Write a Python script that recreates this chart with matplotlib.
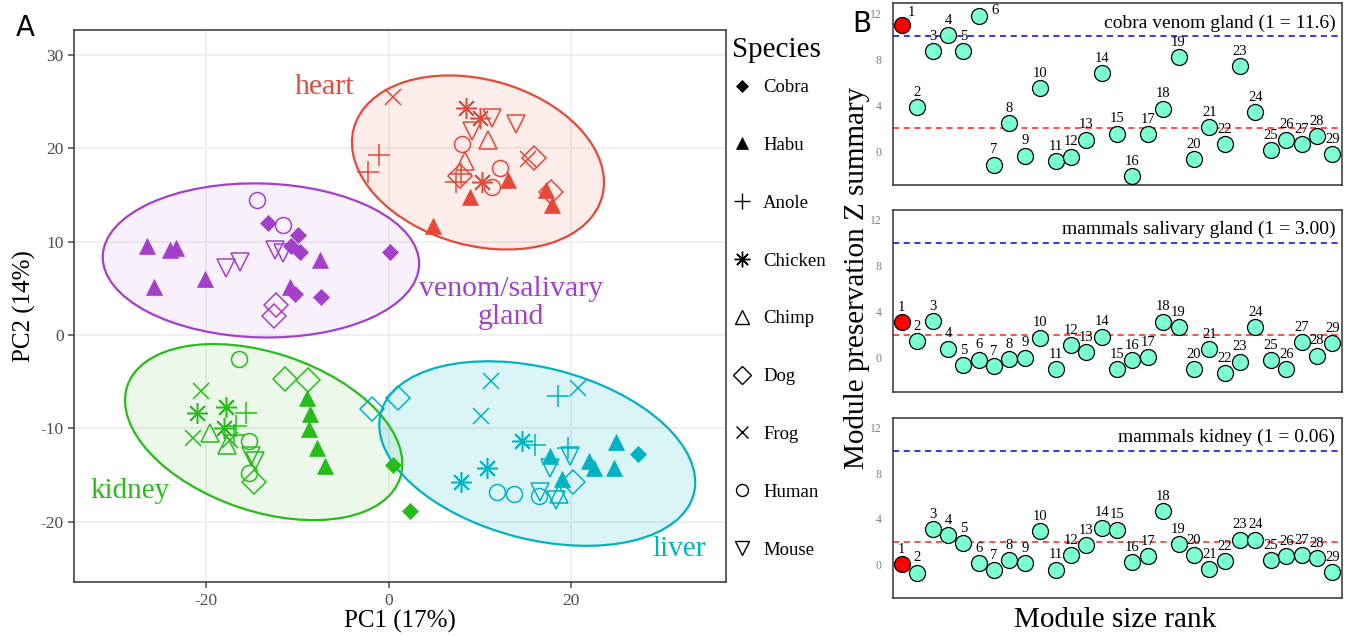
import numpy as np
import matplotlib.pyplot as plt
from matplotlib.patches import Ellipse
from matplotlib.lines import Line2D

plt.rcParams['font.family'] = ['Liberation Serif', 'DejaVu Serif']
plt.rcParams['axes.unicode_minus'] = False

############################################################# Data

species_names = ['Cobra', 'Habu', 'Anole', 'Chicken', 'Chimp', 'Dog', 'Frog', 'Human', 'Mouse']

heart_sp = ['Frog', 'Anole', 'Anole', 'Chicken', 'Chicken', 'Chicken', 'Mouse', 'Mouse', 'Mouse',
            'Chimp', 'Chimp', 'Human', 'Human', 'Human', 'Dog', 'Dog', 'Dog', 'Frog', 'Anole', 'Anole',
            'Habu', 'Habu', 'Habu', 'Habu', 'Habu']
heart_x = [0.5, -1.1, -2.3, 8.5, 10.0, 10.2, 11.3, 14.0, 9.1, 10.9, 8.4, 8.0, 12.2, 11.3, 15.9, 7.8, 17.8,
           15.3, 7.4, 7.9, 13.1, 8.9, 4.9, 17.3, 17.9]
heart_y = [25.5, 19.3, 17.5, 24.3, 23.3, 16.4, 23.3, 22.6, 21.9, 20.9, 18.7, 20.5, 17.9, 15.9, 19.0, 17.1,
           15.3, 18.9, 16.4, 17.3, 16.6, 14.8, 11.7, 15.5, 13.9]

venom_sp = ['Human', 'Human', 'Cobra', 'Cobra', 'Cobra', 'Cobra', 'Cobra', 'Cobra', 'Cobra',
            'Mouse', 'Mouse', 'Mouse', 'Mouse', 'Habu', 'Habu', 'Habu', 'Habu', 'Habu', 'Habu', 'Habu',
            'Dog', 'Dog']
venom_x = [-14.4, -11.6, -13.2, -9.9, -10.7, -9.7, 0.2, -10.3, -7.4, -12.5, -11.6, -17.8, -16.3,
           -26.5, -24.0, -23.3, -7.5, -20.1, -25.7, -10.8, -12.3, -12.6]
venom_y = [14.5, 11.8, 12.0, 10.7, 9.5, 8.9, 8.9, 4.4, 4.1, 9.1, 8.8, 7.2, 7.8,
           9.6, 9.1, 9.3, 8.0, 6.0, 5.1, 5.1, 3.2, 2.0]

kidney_sp = ['Human', 'Human', 'Human', 'Dog', 'Dog', 'Dog', 'Frog', 'Frog', 'Frog',
             'Chicken', 'Chicken', 'Chicken', 'Anole', 'Anole', 'Anole', 'Chimp', 'Chimp',
             'Mouse', 'Mouse', 'Habu', 'Habu', 'Habu', 'Habu', 'Habu', 'Cobra', 'Cobra']
kidney_x = [-16.4, -15.3, -15.3, -11.4, -8.8, -14.8, -20.6, -21.4, -17.4, -21.0, -17.8, -18.0,
            -15.6, -16.7, -17.0, -19.6, -17.7, -15.1, -14.7, -9.0, -8.6, -8.7, -7.8, -7.0, 0.5, 2.3]
kidney_y = [-2.6, -11.4, -14.8, -4.7, -4.8, -15.7, -6.0, -11.0, -11.2, -8.4, -7.7, -10.0,
            -8.4, -9.8, -10.7, -10.5, -11.8, -13.0, -13.5, -6.7, -8.5, -10.1, -12.1, -14.0, -13.9, -18.9]

liver_sp = ['Dog', 'Dog', 'Dog', 'Frog', 'Frog', 'Frog', 'Anole', 'Anole', 'Anole',
            'Chicken', 'Chicken', 'Chicken', 'Habu', 'Habu', 'Habu', 'Habu', 'Habu', 'Habu', 'Cobra',
            'Mouse', 'Mouse', 'Mouse', 'Mouse', 'Human', 'Human', 'Human', 'Chimp']
liver_x = [-1.8, 1.0, 20.2, 11.2, 10.1, 20.8, 18.6, 16.0, 19.7, 14.6, 10.8, 7.9,
           17.7, 24.9, 22.0, 22.5, 19.0, 24.7, 27.4, 19.9, 17.7, 16.6, 18.4, 11.9, 13.8, 16.5, 18.7]
liver_y = [-7.9, -6.7, -15.8, -4.9, -8.7, -5.7, -6.5, -11.8, -12.1, -11.4, -14.2, -15.7,
           -13.0, -11.5, -13.5, -14.2, -15.4, -14.3, -12.7, -13.0, -14.3, -16.8, -17.7, -16.8, -17.0, -17.3, -17.0]

# ellipse: centre x, centre y, semi-axis a, semi-axis b, angle (deg)
heart_ell = [9.8, 18.5, 14.1, 8.9, -14.8]
venom_ell = [-14.0, 8.0, 17.35, 8.25, -1.5]
kidney_ell = [-13.7, -10.4, 15.75, 8.5, -18.0]
liver_ell = [16.3, -12.7, 17.7, 9.2, -13.9]

# Module preservation Z summary, module size rank 1..29
rank = np.arange(1, 30)
z_cobra = [11.0, 3.8, 8.7, 10.1, 8.7, 11.8, -1.2, 2.4, -0.4, 5.5, -0.9, -0.5, 1.0, 6.8, 1.5, -2.2,
           1.45, 3.7, 8.2, -0.7, 2.1, 0.6, 7.4, 3.4, 0.1, 1.0, 0.6, 1.3, -0.26]
z_saliv = [3.1, 1.45, 3.2, 0.8, -0.67, -0.17, -0.75, -0.12, 0.0, 1.74, -1.0, 1.1, 0.46, 1.83, -1.0,
           -0.2, 0.03, 3.13, 2.64, -1.0, 0.75, -1.36, -0.35, 2.64, -0.23, -1.0, 1.33, 0.17, 1.28]
z_kidney = [0.03, -0.72, 3.07, 2.56, 1.87, 0.09, -0.52, 0.37, 0.09, 2.9, -0.46, 0.78, 1.67, 3.22,
            3.05, 0.17, 0.72, 4.66, 1.75, 0.8, -0.43, 0.26, 2.16, 2.16, 0.37, 0.69, 0.83, 0.57, -0.69]
panel_titles = ['cobra venom gland (1 = 11.6)', 'mammals salivary gland (1 = 3.00)',
                'mammals kidney (1 = 0.06)']

############################################################# Styles

col_heart = '#E4493A'
col_venom = '#A43FCB'
col_kidney = '#27BC1A'
col_liver = '#00B2C4'

# (marker, filled, size)
mk = {'Cobra': ('D', True, 8.5), 'Habu': ('^', True, 12), 'Anole': ('+', False, 16),
      'Chicken': ((8, 2, 0), False, 15), 'Chimp': ('^', False, 13), 'Dog': ('D', False, 12),
      'Frog': ('x', False, 11.5), 'Human': ('o', False, 11.5), 'Mouse': ('v', False, 13)}

fig = plt.figure(figsize=(13.52, 6.36), dpi=100)

############################################################# Panel A

ax = fig.add_axes([74/1352, 1-582.3/636, 652/1352, 552.3/636])
ax.set_xlim(-34.5, 37.0)
ax.set_ylim(-26.5, 32.7)
for g in [-20, 0, 20]:
    ax.axvline(g, color='#EFEFEF', lw=1.4, zorder=0)
for g in [-20, -10, 0, 10, 20, 30]:
    ax.axhline(g, color='#EFEFEF', lw=1.4, zorder=0)

groups = [(heart_sp, heart_x, heart_y, heart_ell, col_heart, 0.1),
          (venom_sp, venom_x, venom_y, venom_ell, col_venom, 0.07),
          (kidney_sp, kidney_x, kidney_y, kidney_ell, col_kidney, 0.09),
          (liver_sp, liver_x, liver_y, liver_ell, col_liver, 0.14)]
for sp, xs, ys, ell, col, fa in groups:
    cx, cy, a, b, ang = ell
    ax.add_patch(Ellipse((cx, cy), 2*a, 2*b, angle=ang, facecolor=col, alpha=fa, edgecolor='none', zorder=1))
    ax.add_patch(Ellipse((cx, cy), 2*a, 2*b, angle=ang, facecolor='none', edgecolor=col, lw=1.6, zorder=2))
    for s, x, y in zip(sp, xs, ys):
        m, filled, size = mk[s]
        ax.plot(x, y, linestyle='none', marker=m, markersize=size,
                markerfacecolor=col if filled else 'none', markeredgecolor=col,
                markeredgewidth=0.5 if filled else 1.1, zorder=3)

ax.text(-7.0, 26.6, 'heart', color=col_heart, fontsize=21.5, ha='center', va='center')
ax.text(13.4, 3.4, 'venom/salivary\ngland', color=col_venom, fontsize=21.5, ha='center', va='center',
        linespacing=1.1)
ax.text(-28.3, -16.7, 'kidney', color=col_kidney, fontsize=21, ha='center', va='center')
ax.text(31.9, -22.9, 'liver', color=col_liver, fontsize=21, ha='center', va='center')

ax.set_xticks([-20, 0, 20])
ax.set_yticks([-20, -10, 0, 10, 20, 30])
ax.tick_params(labelsize=12.5, colors='#4D4D4D', length=4, width=1.1)
for s in ax.spines.values():
    s.set_color('#333333')
    s.set_linewidth(1.1)
ax.set_xlabel('PC1 (17%)', fontsize=18, labelpad=1)
ax.set_ylabel('PC2 (14%)', fontsize=18, labelpad=3)

handles = []
for s in species_names:
    m, filled, size = mk[s]
    handles.append(Line2D([], [], linestyle='none', marker=m, markersize=size*0.75,
                          markerfacecolor='black' if filled else 'none', markeredgecolor='black',
                          markeredgewidth=0.5 if filled else 1.0))
fig.legend(handles, species_names, loc='upper left',
           bbox_to_anchor=(733/1352, 1-79/636), frameon=False, fontsize=13.5,
           labelspacing=2.17, handlelength=1.0, handletextpad=0.6, borderpad=0, borderaxespad=0)
fig.text(732/1352, 1-50/636, 'Species', fontsize=21, ha='left', va='center')

fig.text(25/1352, 1-28/636, 'A', fontsize=20, family='DejaVu Sans', ha='center', va='center')
fig.text(862/1352, 1-24/636, 'B', fontsize=20, family='DejaVu Sans', ha='center', va='center')

############################################################# Panel B

rects = [[893/1352, 1-185/636, 449/1352, 181.7/636],
         [893/1352, 1-391.7/636, 449/1352, 181.7/636],
         [893/1352, 1-598/636, 449/1352, 180/636]]
label_offsets = [{1: (4, 4), 6: (9, -1)}, {}, {}]
for rect, z, title, offs in zip(rects, [z_cobra, z_saliv, z_kidney], panel_titles, label_offsets):
    bx = fig.add_axes(rect)
    bx.set_xlim(0.43, 29.63)
    bx.set_ylim(-2.96, 12.87)
    bx.axhline(10, color='#0000EE', ls=(0, (4, 3)), lw=1.1, zorder=1)
    bx.axhline(2, color='#FF2020', ls=(0, (4, 3)), lw=1.1, zorder=1)
    cols = ['#FF0000'] + ['#79FFD0'] * (len(rank) - 1)
    for r, v, c in zip(rank, z, cols):
        bx.plot(r, v, 'o', markersize=11.5, markerfacecolor=c, markeredgecolor='black',
                markeredgewidth=0.9, zorder=3)
        dx, dy = offs.get(r, (0, 6))
        bx.annotate(str(r), (r, v), xytext=(dx, dy), textcoords='offset points',
                    ha='center' if r not in offs else 'left', va='bottom', fontsize=10.5, zorder=4)
    bx.text(0.985, 0.94, title, transform=bx.transAxes, ha='right', va='top', fontsize=14)
    bx.set_xticks([])
    bx.set_yticks([0, 4, 8, 12])
    bx.tick_params(axis='y', labelsize=8.5, colors='#7F7F7F', length=0, pad=8)
    for s in bx.spines.values():
        s.set_color('#333333')
        s.set_linewidth(1.1)

fig.text(857/1352, 1-278/636, 'Module preservation Z summary', rotation=90, fontsize=21,
         ha='center', va='center')
fig.text(1115/1352, 1-620/636, 'Module size rank', fontsize=21, ha='center', va='center')

fig.savefig('out.png', dpi=100)
